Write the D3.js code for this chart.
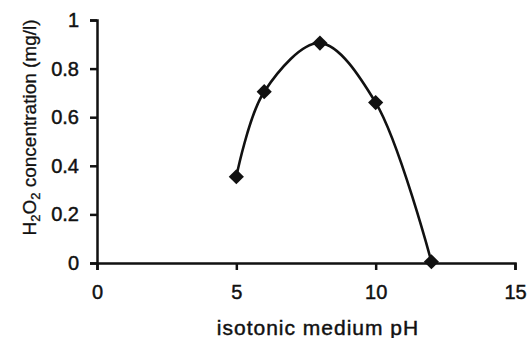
<!DOCTYPE html>
<html>
<head>
<meta charset="utf-8">
<script src="https://cdn.jsdelivr.net/npm/d3@7"></script>
<style>
  body { margin: 0; background: #fff; }
  text { font-family: "Liberation Sans", Arial, sans-serif; fill: #111; stroke: #111; stroke-width: 0.45px; }
</style>
</head>
<body>
<div id="chart"></div>
<script>
// data
const phValues = [5, 6, 8, 10, 12];
const h2o2Values = [0.355, 0.705, 0.905, 0.66, 0.005];
const xTicks = [0, 5, 10, 15];
const yTicks = [0, 0.2, 0.4, 0.6, 0.8, 1];

const W = 532, H = 338;
const margin = { top: 20, right: 17, bottom: 75, left: 97 };
const width = W - margin.left - margin.right;
const height = H - margin.top - margin.bottom;

const svg = d3.select('#chart').append('svg')
  .attr('width', W)
  .attr('height', H);

const g = svg.append('g')
  .attr('transform', `translate(${margin.left},${margin.top})`);

const x = d3.scaleLinear().domain([0, 15]).range([0, width]);
const y = d3.scaleLinear().domain([0, 1]).range([height, 0]);

// axes
const xAxis = g.append('g')
  .attr('transform', `translate(0,${height})`)
  .call(d3.axisBottom(x).tickValues(xTicks).tickSize(7).tickPadding(15).tickFormat(d3.format('d')));

const yAxis = g.append('g')
  .call(d3.axisLeft(y).tickValues(yTicks).tickSize(7).tickPadding(11).tickFormat(d => d === 0 || d === 1 ? d : d3.format('.1f')(d)));

[xAxis, yAxis].forEach(a => {
  a.select('.domain').attr('stroke', '#111').attr('stroke-width', 2.5);
  a.selectAll('.tick line').attr('stroke', '#111').attr('stroke-width', 2.5);
  a.selectAll('text').style('font-size', '20px').style('fill', '#111');
});

// smooth line
const pts = phValues.map((d, i) => [d, h2o2Values[i]]);
const line = d3.line()
  .x(d => x(d[0]))
  .y(d => y(d[1]))
  .curve(d3.curveCatmullRom.alpha(0.5));

g.append('path')
  .datum(pts)
  .attr('fill', 'none')
  .attr('stroke', '#111')
  .attr('stroke-width', 2.6)
  .attr('d', line);

// diamond markers
const diamond = d3.symbol().type(d3.symbolSquare).size(115);
g.selectAll('.pt')
  .data(pts)
  .join('path')
  .attr('class', 'pt')
  .attr('transform', d => `translate(${x(d[0])},${y(d[1])}) rotate(45)`)
  .attr('d', diamond)
  .attr('fill', '#111');

// axis titles
svg.append('text')
  .attr('x', margin.left + x(7.5) + 12)
  .attr('y', 335)
  .attr('text-anchor', 'middle')
  .style('font-size', '21px')
  .style('letter-spacing', '1px')
  .text('isotonic medium pH');

const yt = svg.append('text')
  .attr('transform', `translate(36,${margin.top + height / 2 - 14}) rotate(-90)`)
  .attr('text-anchor', 'middle')
  .style('font-size', '19px')
  .style('stroke-width', '0.3px');
yt.append('tspan').text('H');
yt.append('tspan').attr('dy', 4).style('font-size', '13px').text('2');
yt.append('tspan').attr('dy', -4).text('O');
yt.append('tspan').attr('dy', 4).style('font-size', '13px').text('2');
yt.append('tspan').attr('dy', -4).text(' concentration (mg/l)');
</script>
</body>
</html>
